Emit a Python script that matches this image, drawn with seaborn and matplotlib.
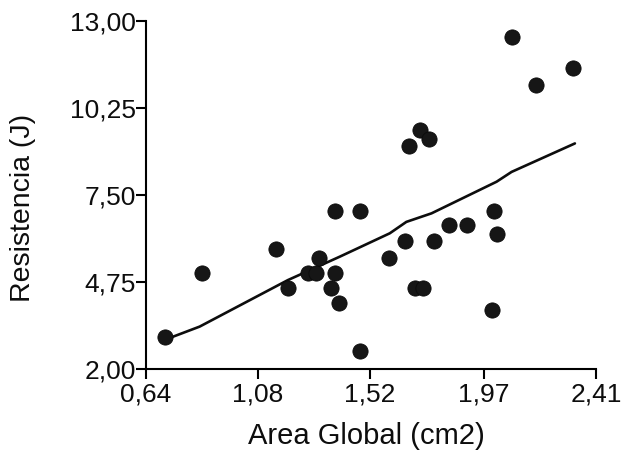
import matplotlib
matplotlib.use("Agg")
import matplotlib.pyplot as plt
import seaborn as sns
import pandas as pd

# Observed samples: global area (cm2) vs. resistance (J)
area = [0.713, 0.860, 1.150, 1.198, 1.277, 1.310, 1.320, 1.385, 1.483, 1.385,
        1.366, 1.398, 1.483, 1.596, 1.658, 1.675, 1.717, 1.752, 1.697, 1.730,
        1.773, 1.832, 1.901, 2.008, 2.019, 1.999, 2.078, 2.173, 2.320]
resistencia = [3.02, 5.05, 5.80, 4.55, 5.05, 5.05, 5.51, 7.00, 7.00, 5.05,
               4.55, 4.09, 2.58, 5.51, 6.04, 9.04, 9.57, 9.26, 4.55, 4.55,
               6.04, 6.56, 6.56, 7.00, 6.26, 3.86, 12.50, 10.99, 11.50]

# Fitted trend line
fit_area = [0.713, 0.851, 1.198, 1.402, 1.599, 1.664, 1.763, 2.019, 2.078, 2.327]
fit_res = [2.92, 3.34, 4.81, 5.55, 6.29, 6.65, 6.92, 7.92, 8.23, 9.13]

x_ticks = [0.64, 1.08, 1.52, 1.97, 2.41]
x_labels = ["0,64", "1,08", "1,52", "1,97", "2,41"]
y_ticks = [2.00, 4.75, 7.50, 10.25, 13.00]
y_labels = ["2,00", "4,75", "7,50", "10,25", "13,00"]

sns.set_style("ticks")
plt.rcParams["font.family"] = ["Liberation Sans", "DejaVu Sans"]

df = pd.DataFrame({"area": area, "res": resistencia})
fit = pd.DataFrame({"area": fit_area, "res": fit_res})

fig = plt.figure(figsize=(6.24, 4.54), dpi=100)
ax = fig.add_axes([146 / 624, 1 - 369 / 454, 450 / 624, 348 / 454])

sns.lineplot(data=fit, x="area", y="res", ax=ax, color="#0d0d0d",
             linewidth=1.9, sort=False)
sns.scatterplot(data=df, x="area", y="res", ax=ax, s=120, color="#161616",
                edgecolor="#0a0a0a", linewidth=0.6, zorder=3)

ax.set_xlim(0.64, 2.41)
ax.set_ylim(2.0, 13.0)
ax.set_xticks(x_ticks)
ax.set_xticklabels(x_labels)
ax.set_yticks(y_ticks)
ax.set_yticklabels(y_labels)

for side in ("top", "right"):
    ax.spines[side].set_visible(False)
for side in ("left", "bottom"):
    ax.spines[side].set_linewidth(1.5)
    ax.spines[side].set_color("#000000")

ax.tick_params(axis="both", length=7, width=1.5, color="#000000",
               labelsize=19, labelcolor="#0d0d0d")
ax.tick_params(axis="y", pad=0.5)
ax.tick_params(axis="x", pad=3)

ax.set_xlabel("Area Global (cm2)", fontsize=21, color="#0d0d0d")
ax.set_ylabel("Resistencia (J)", fontsize=20.5, color="#0d0d0d")
ax.xaxis.set_label_coords(0.49, -0.152)
ax.yaxis.set_label_coords(-0.245, 0.463)

fig.savefig("out.png", dpi=100)
